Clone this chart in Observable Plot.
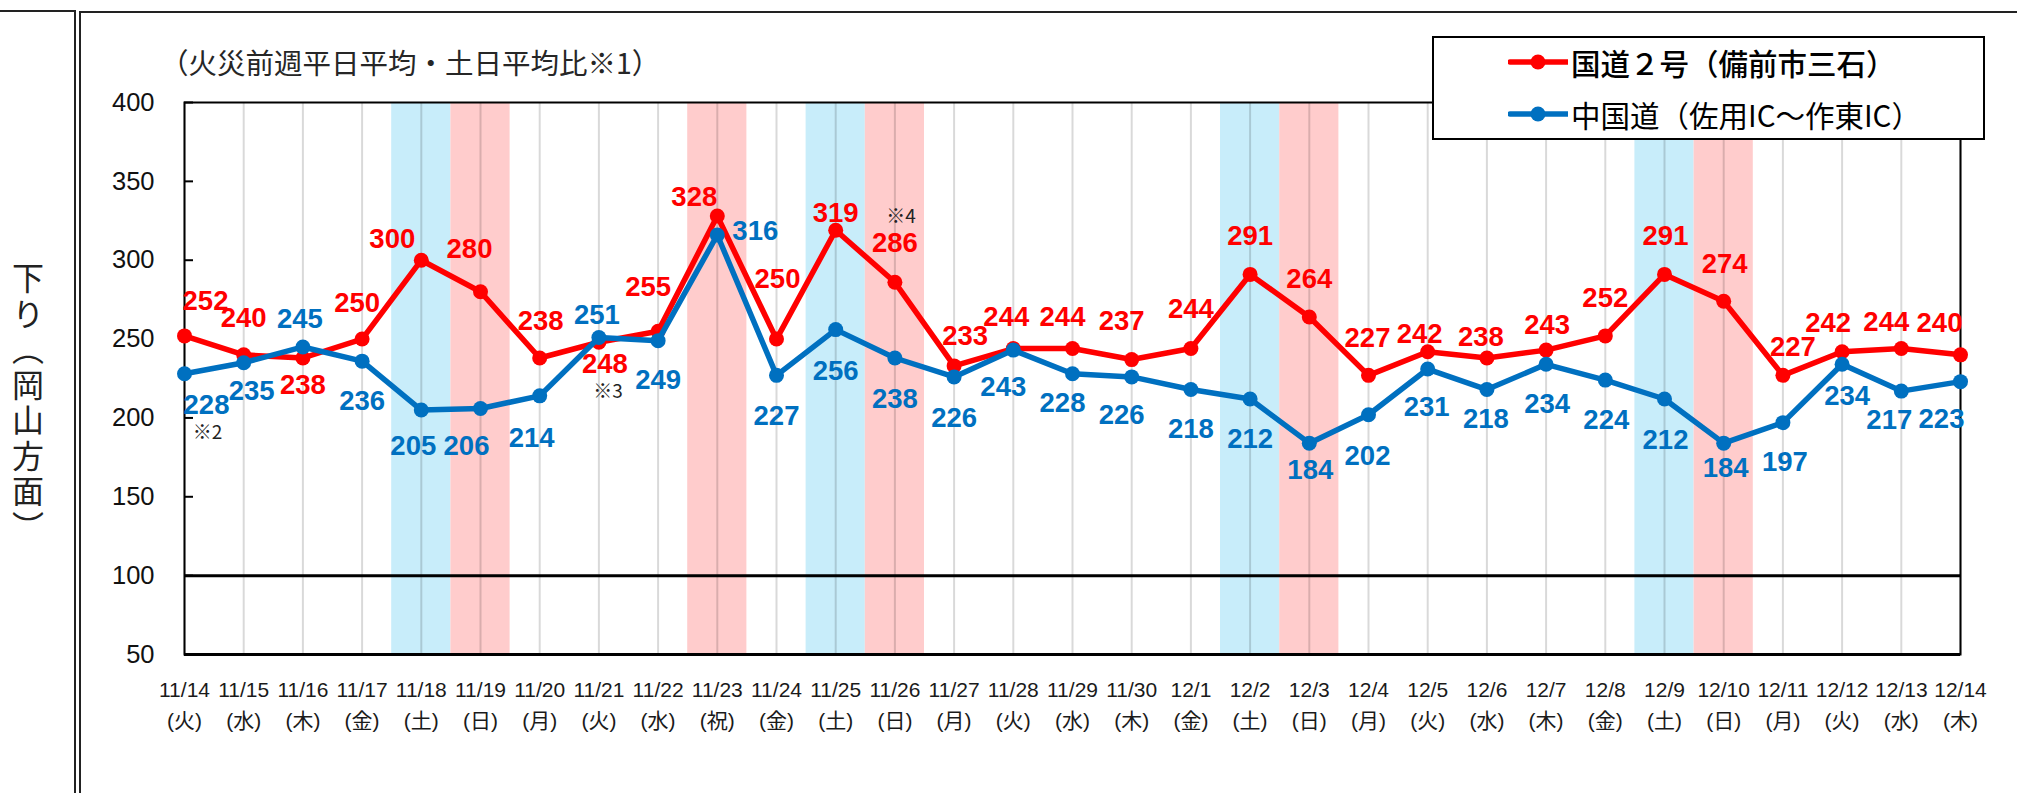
<!DOCTYPE html>
<html>
<head>
<meta charset="utf-8">
<script src="https://cdn.jsdelivr.net/npm/d3@7"></script>
<script src="https://cdn.jsdelivr.net/npm/@observablehq/plot@0.6"></script>
<style>
  html, body { margin: 0; padding: 0; background: #fff; }
  #wrap { position: relative; width: 2017px; height: 793px; overflow: hidden; background: #fff; }
  #chart > svg { position: absolute; left: 0; top: 0; }
  .ov { position: absolute; }
  .cjk { font-family: "Noto Sans CJK JP", "Noto Sans", sans-serif; }
</style>
</head>
<body>
<div id="wrap">
  <div id="chart"></div>
  <div class="ov" style="left:0;top:10px;width:74px;height:2px;background:#222"></div>
  <div class="ov" style="left:74px;top:10px;width:2px;height:783px;background:#222"></div>
  <div class="ov" style="left:79px;top:11px;width:2px;height:782px;background:#222"></div>
  <div class="ov" style="left:79px;top:11px;width:1938px;height:2px;background:#222"></div>
  <div class="ov cjk" id="ylab" style="left:11px;top:262px;writing-mode:vertical-rl;font-size:32px;letter-spacing:3.5px;color:#222;line-height:34px"></div>
  <div class="ov cjk" id="title" style="left:160px;top:46px;font-size:28.5px;line-height:31px;color:#262626;white-space:nowrap"></div>
  <div class="ov" id="legend" style="left:1432px;top:36px;width:549px;height:100px;border:2px solid #000;background:#fff"></div>
</div>
<script>
// ---- data ----
const dates = ["11/14","11/15","11/16","11/17","11/18","11/19","11/20","11/21","11/22","11/23","11/24","11/25","11/26","11/27","11/28","11/29","11/30","12/1","12/2","12/3","12/4","12/5","12/6","12/7","12/8","12/9","12/10","12/11","12/12","12/13","12/14"];
const weekdays = ["火","水","木","金","土","日","月","火","水","祝","金","土","日","月","火","水","木","金","土","日","月","火","水","木","金","土","日","月","火","水","木"];
const route2 = [252,240,238,250,300,280,238,248,255,328,250,319,286,233,244,244,237,244,291,264,227,242,238,243,252,291,274,227,242,244,240];
const chugoku = [228,235,245,236,205,206,214,251,249,316,227,256,238,226,243,228,226,218,212,184,202,231,218,234,224,212,184,197,234,217,223];
const yTicks = [50,100,150,200,250,300,350,400];
const seriesNames = ["国道２号（備前市三石）", "中国道（佐用IC～作東IC）"];
const titleText = "（火災前週平日平均・土日平均比※1）";
const yAxisTitle = "下り（岡山方面）";
const notes = [{series: "blue", i: 0, text: "※2"}, {series: "red", i: 7, text: "※3"}, {series: "red", i: 12, text: "※4"}];

// label nudges (px) for each point's data label
const redNudge = [[21,-35],[0,-37],[0,27],[-5,-36],[-29,-21],[-11,-43],[1,-37],[6,22],[-10,-44],[-23,-19],[1,-60],[0,-17],[0,-39],[11,-30],[-7,-31],[-10,-31],[-10,-38],[0,-39],[0,-38],[0,-38],[-1,-37],[-8,-18],[-6,-21],[1,-25],[0,-38],[1,-38],[1,-37],[10,-28],[-14,-29],[-15,-26],[-21,-32]];
const blueNudge = [[22,31],[8,28],[-3,-28],[0,40],[-8,36],[-14,38],[-8,42],[-2,-22],[0,40],[38,-4],[0,41],[0,42],[0,41],[0,41],[-10,37],[-10,29],[-10,38],[0,40],[0,40],[1,27],[-1,41],[-1,38],[-1,30],[1,40],[1,40],[1,41],[2,25],[2,40],[5,32],[-12,29],[-19,38]];
const noteNudge = [[23,59],[9,50],[6,-65]];

// ---- styles ----
const RED = "#ff0000", BLUE = "#0070c0";
const SAT = "#c8edfa", HOL = "#ffcccc";
const LATIN = "Liberation Sans, Arial, sans-serif";

const idx = dates.map((d, i) => i);
const redRows = route2.map((v, i) => ({i, v}));
const blueRows = chugoku.map((v, i) => ({i, v}));
const satDays = idx.filter(i => weekdays[i] === "土");
const holDays = idx.filter(i => weekdays[i] === "日" || weekdays[i] === "祝");

const labelMarks = [];
redRows.forEach((d, k) => labelMarks.push(Plot.text([d], {x: "i", y: "v", text: d => String(d.v), fill: RED, fontSize: 27.5, fontWeight: "bold", fontFamily: LATIN, dx: redNudge[k][0], dy: redNudge[k][1]})));
blueRows.forEach((d, k) => labelMarks.push(Plot.text([d], {x: "i", y: "v", text: d => String(d.v), fill: BLUE, fontSize: 27.5, fontWeight: "bold", fontFamily: LATIN, dx: blueNudge[k][0], dy: blueNudge[k][1]})));
notes.forEach((n, k) => labelMarks.push(Plot.text([n], {x: "i", y: n => (n.series === "red" ? route2 : chugoku)[n.i], text: "text", fill: "#222", fontSize: 19, fontFamily: "Noto Sans CJK JP, sans-serif", dx: noteNudge[k][0], dy: noteNudge[k][1]})));

const chart = Plot.plot({
  width: 2017,
  height: 793,
  marginLeft: 184,
  marginRight: 57,
  marginTop: 102,
  marginBottom: 139,
  style: {background: "transparent", fontFamily: LATIN, color: "#1a1a1a"},
  x: {type: "linear", domain: [0, dates.length - 1], axis: null, label: null},
  y: {type: "linear", domain: [50, 400], axis: null, label: null},
  marks: [
    Plot.rect(satDays, {x1: i => i - 0.5, x2: i => i + 0.5, y1: 50, y2: 400, fill: SAT}),
    Plot.rect(holDays, {x1: i => i - 0.5, x2: i => i + 0.5, y1: 50, y2: 400, fill: HOL}),
    Plot.ruleX(idx, {stroke: "#000", strokeOpacity: 0.15, strokeWidth: 2}),
    Plot.ruleY([100], {stroke: "#000", strokeWidth: 3}),
    Plot.frame({stroke: "#000", strokeWidth: 2}),
    Plot.ruleY([50], {stroke: "#000", strokeWidth: 3}),
    Plot.axisY({ticks: yTicks, label: null, tickSize: 0, tickPadding: 30, fontSize: 25.5, fontFamily: LATIN, fill: "#111"}),
    Plot.axisY({ticks: yTicks, label: null, tickSize: 9, dx: 9, strokeWidth: 2, stroke: "#000", tickFormat: () => ""}),
    Plot.axisX({ticks: idx, label: null, tickSize: 0, tickPadding: 20, fontSize: 21, lineHeight: 1.48, fontFamily: "Liberation Sans, Noto Sans CJK JP, sans-serif", fill: "#1a1a1a", tickFormat: i => `${dates[i]}\n(${weekdays[i]})`}),
    Plot.line(redRows, {x: "i", y: "v", stroke: RED, strokeWidth: 5.5, strokeLinejoin: "round"}),
    Plot.dot(redRows, {x: "i", y: "v", fill: RED, r: 7.5}),
    Plot.line(blueRows, {x: "i", y: "v", stroke: BLUE, strokeWidth: 5.5, strokeLinejoin: "round"}),
    Plot.dot(blueRows, {x: "i", y: "v", fill: BLUE, r: 7.5}),
    ...labelMarks
  ]
});
document.getElementById("chart").appendChild(chart);

document.getElementById("ylab").textContent = yAxisTitle;
document.getElementById("title").textContent = titleText;

// legend
const lg = document.getElementById("legend");
[[RED, seriesNames[0], 500, 24], [BLUE, seriesNames[1], 400, 76]].forEach(([c, name, w, cy]) => {
  const row = document.createElement("div");
  row.style.cssText = `position:absolute;left:74px;top:${cy - 17}px;height:34px;display:flex;align-items:center;`;
  row.innerHTML = `<svg width="60" height="34" style="flex:none;display:block"><line x1="2" y1="17" x2="59" y2="17" stroke="${c}" stroke-width="5.5" stroke-linecap="round"/><circle cx="30" cy="17" r="7.5" fill="${c}"/></svg>` +
    `<span class="cjk" style="font-size:29.5px;font-weight:${w};color:#000;margin-left:3px;white-space:nowrap;line-height:34px">${name}</span>`;
  lg.appendChild(row);
});
</script>
</body>
</html>
